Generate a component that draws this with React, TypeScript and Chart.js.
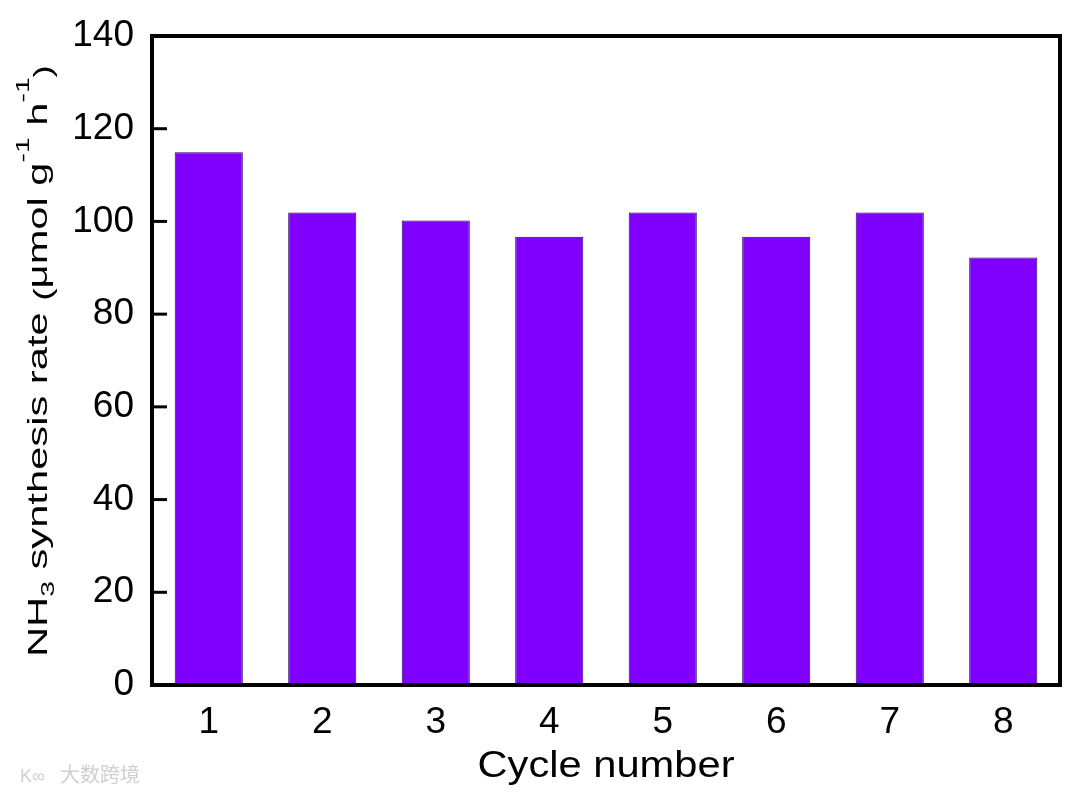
import React, { useEffect, useRef } from "react";
import { Chart, registerables } from "chart.js";

Chart.register(...registerables);

const cycles = ["1", "2", "3", "4", "5", "6", "7", "8"];
const rates = [114.9, 101.9, 100.2, 96.7, 101.9, 96.7, 101.9, 92.2];
const yTickValues = [0, 20, 40, 60, 80, 100, 120, 140];
const xTitle = "Cycle number";
const watermark = "大数跨境";

const FONT = "'Liberation Sans', Arial, sans-serif";

type Part = { text: string; size: number; dy: number };

const yTitleParts: Part[] = [
  { text: "NH", size: 28, dy: 0 },
  { text: "3", size: 19, dy: 7 },
  { text: " synthesis rate ", size: 28, dy: 0 },
  { text: "(", size: 25, dy: 5 },
  { text: "\u03BCmol g", size: 28, dy: 0 },
  { text: "-1", size: 19, dy: -18 },
  { text: " h", size: 28, dy: 0 },
  { text: "-1", size: 19, dy: -18 },
  { text: ")", size: 25, dy: 5 },
];

const framePlugin = {
  id: "framePlugin",
  afterDraw(chart: any) {
    const { ctx, chartArea } = chart;
    const { left, right, top, bottom } = chartArea;
    const y = chart.scales.y;
    ctx.save();
    // frame
    ctx.strokeStyle = "#000";
    ctx.lineWidth = 4;
    ctx.lineJoin = "miter";
    ctx.strokeRect(left, top, right - left, bottom - top);
    // inward ticks on left axis
    ctx.lineWidth = 3;
    yTickValues.forEach((v) => {
      const py = y.getPixelForValue(v);
      ctx.beginPath();
      ctx.moveTo(left, py);
      ctx.lineTo(left + 15, py);
      ctx.stroke();
    });

    // x title
    ctx.fillStyle = "#000";
    ctx.font = `36px ${FONT}`;
    ctx.textBaseline = "alphabetic";
    ctx.textAlign = "left";
    const xw = ctx.measureText(xTitle).width;
    const xsx = 257 / xw;
    ctx.save();
    ctx.translate((left + right) / 2, 777);
    ctx.scale(xsx, 1);
    ctx.fillText(xTitle, -xw / 2, 0);
    ctx.restore();

    // y title (rotated, rich text)
    let total = 0;
    const widths = yTitleParts.map((p) => {
      ctx.font = `${p.size}px ${FONT}`;
      const w = ctx.measureText(p.text).width;
      total += w;
      return w;
    });
    const ysx = 592 / total;
    ctx.save();
    ctx.translate(47, 361);
    ctx.rotate(-Math.PI / 2);
    ctx.scale(ysx, 1);
    let cx = -total / 2;
    yTitleParts.forEach((p, i) => {
      ctx.font = `${p.size}px ${FONT}`;
      ctx.fillText(p.text, cx, p.dy);
      cx += widths[i];
    });
    ctx.restore();

    // watermark
    ctx.font = `20px 'Noto Sans CJK SC', sans-serif`;
    ctx.fillStyle = "#cfcfcf";
    ctx.fillText(watermark, 60, 782);
    ctx.font = `18px ${FONT}`;
    ctx.fillText("K\u221E", 20, 782);
    ctx.restore();
  },
};

export default function App() {
  const ref = useRef<HTMLCanvasElement | null>(null);

  useEffect(() => {
    document.body.style.margin = "0";
    const canvas = ref.current;
    if (!canvas) return;
    const chart = new Chart(canvas, {
      type: "bar",
      data: {
        labels: cycles,
        datasets: [
          {
            data: rates,
            backgroundColor: "#7f00ff",
            borderColor: "#25005a",
            borderWidth: 1,
            barPercentage: 0.6,
            categoryPercentage: 1,
          },
        ],
      },
      options: {
        responsive: false,
        animation: false,
        devicePixelRatio: 1,
        layout: { padding: { left: 0, right: 14, top: 36, bottom: 0 } },
        plugins: {
          legend: { display: false },
          tooltip: { enabled: false },
          title: { display: false },
        },
        scales: {
          x: {
            grid: { display: false, drawTicks: false },
            border: { display: false },
            ticks: {
              color: "#000",
              font: { family: FONT, size: 37 },
              padding: 16,
              maxRotation: 0,
            },
            afterFit: (s: any) => {
              s.height = 109;
              s.paddingLeft = 0;
              s.paddingRight = 0;
            },
          },
          y: {
            min: 0,
            max: 140,
            grid: { display: false, drawTicks: false },
            border: { display: false },
            ticks: {
              stepSize: 20,
              color: "#000",
              font: { family: FONT, size: 37 },
              padding: 18,
            },
            afterFit: (s: any) => {
              s.width = 152;
              s.paddingTop = 0;
              s.paddingBottom = 0;
            },
          },
        },
      },
      plugins: [framePlugin],
    });
    return () => chart.destroy();
  }, []);

  return (
    <div style={{ position: "absolute", left: 0, top: 0, width: 1074, height: 794, background: "#fff" }}>
      <canvas ref={ref} width={1074} height={794} />
    </div>
  );
}
